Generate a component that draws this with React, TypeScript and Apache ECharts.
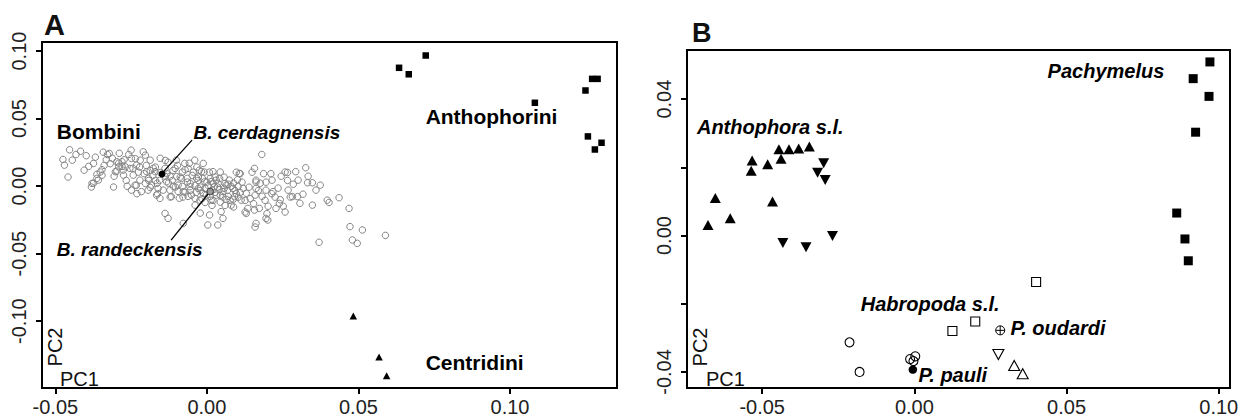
import React, { useEffect, useRef } from "react";
import * as echarts from "echarts";

const FONT = "'Liberation Sans', Arial, Helvetica, sans-serif";

// ---------- Panel A data (PC1, PC2) ----------
const bombini: number[][] = [
  [-0.0475,0.0197],[-0.0470,0.0155],[-0.0458,0.0067],[-0.0453,0.0269],[-0.0432,0.0234],[-0.0398,0.0225],[-0.0390,0.0146],[-0.0381,-0.0007],[-0.0374,0.0022],[-0.0363,0.0087],[-0.0352,0.0104],[-0.0346,0.0121],[-0.0339,0.0153],[-0.0332,0.0195],[-0.0328,0.0234],[-0.0319,0.0166],[-0.0308,-0.0007],[-0.0297,0.0111],[-0.0291,0.0170],[-0.0280,0.0146],[-0.0273,0.0195],[-0.0266,0.0042],[-0.0258,0.0234],
  [-0.0374,0.0168],[-0.0322,0.0242],[-0.0302,0.0107],[-0.0297,0.0180],[-0.0280,0.0180],[-0.0291,0.0143],[-0.0269,0.0143],[-0.0275,0.0081],[-0.0379,0.0020],[-0.0363,0.0057],[-0.0346,0.0081],
  [-0.0210,0.0254],[-0.0249,0.0205],[-0.0232,0.0155],[-0.0254,0.0131],[-0.0243,0.0081],[-0.0221,0.0044],[-0.0237,0.0007],[-0.0249,-0.0030],[-0.0216,-0.0041],[-0.0199,0.0107],[-0.0193,0.0057],[-0.0183,0.0007],[-0.0171,0.0107],[-0.0166,-0.0067],[-0.0155,-0.0091],[-0.0161,-0.0017],[-0.0138,0.0131],[-0.0133,0.0033],[-0.0122,-0.0030],[-0.0117,-0.0078],[-0.0105,0.0131],[-0.0100,0.0070],[-0.0095,0.0007],[-0.0084,0.0057],[-0.0078,-0.0041],[-0.0073,0.0168],[-0.0062,0.0131],[-0.0056,-0.0004],[-0.0051,-0.0067],[-0.0040,0.0192],[-0.0034,0.0057],[-0.0029,-0.0017],[-0.0023,-0.0104],[-0.0018,0.0107],[-0.0012,0.0168],[-0.0007,0.0033],[-0.0128,-0.0239],[-0.0078,-0.0276],[-0.0138,-0.0202],
  [-0.0236,0.0203],[-0.0233,0.0005],[-0.0231,-0.0056],[-0.0222,0.0141],[-0.0207,0.0092],[-0.0200,0.0153],[-0.0192,0.0042],[-0.0187,0.0116],[-0.0178,0.0079],[-0.0170,0.0141],[-0.0163,-0.0056],[-0.0156,0.0042],[-0.0137,0.0190],[-0.0132,0.0092],[-0.0127,0.0022],[-0.0121,-0.0081],[-0.0112,0.0116],[-0.0104,-0.0007],[-0.0097,0.0153],[-0.0088,0.0067],[-0.0079,-0.0081],[-0.0072,0.0121],[-0.0064,0.0030],[-0.0055,-0.0032],[-0.0033,0.0141],[-0.0028,0.0067],[-0.0022,-0.0007],[-0.0016,-0.0093],[-0.0009,0.0104],[-0.0022,-0.0200],
  [0.0000,0.0030],[0.0020,-0.0106],[0.0027,0.0067],[0.0035,-0.0007],[0.0044,0.0104],[0.0053,-0.0081],[0.0060,0.0018],[0.0068,-0.0032],[0.0077,-0.0106],[0.0088,0.0022],[0.0097,-0.0056],[0.0101,0.0047],[0.0110,0.0092],[0.0126,-0.0106],[0.0143,-0.0093],[0.0154,-0.0130],[0.0162,0.0030],[0.0170,-0.0032],[0.0181,0.0234],[0.0187,0.0092],[0.0192,-0.0106],[0.0211,0.0092],[0.0214,-0.0056],[0.0242,-0.0101],[0.0258,0.0104],[0.0266,0.0042],[0.0275,-0.0081],
  [0.0020,0.0107],[0.0042,0.0057],[0.0014,0.0033],[0.0025,-0.0004],[0.0031,-0.0067],[0.0053,-0.0041],[0.0064,0.0007],[0.0074,0.0044],[0.0086,-0.0017],[0.0091,-0.0078],[0.0107,0.0094],[0.0113,-0.0104],[0.0135,-0.0165],[0.0130,-0.0202],[0.0157,0.0131],[0.0162,0.0044],[0.0162,-0.0017],[0.0173,-0.0165],[0.0195,-0.0030],[0.0195,-0.0239],[0.0162,-0.0276],[0.0218,-0.0041],[0.0228,-0.0165],[0.0239,-0.0128],[0.0047,-0.0189],[0.0053,-0.0239],[0.0009,-0.0214],[0.0003,-0.0288],[0.0036,-0.0288],[0.0157,-0.0178],[0.0201,-0.0251],
  [0.0088,-0.0155],[0.0126,-0.0192],[0.0159,-0.0303],[0.0198,-0.0204],[0.0258,-0.0192],
  [0.0266,0.0101],[0.0293,0.0107],[0.0326,0.0136],[0.0332,0.0025],[0.0348,0.0025],[0.0282,-0.0078],[0.0299,-0.0078],[0.0348,-0.0141],[0.0397,-0.0104],[0.0403,-0.0121],[0.0436,-0.0086],[0.0469,-0.0165],[0.0472,-0.0300],[0.0513,-0.0325],[0.0370,-0.0416],[0.0480,-0.0399],[0.0496,-0.0424],[0.0589,-0.0365],
  [-0.0055,0.0020],[-0.0039,0.0005],[-0.0022,-0.0032],[-0.0006,-0.0017],[0.0004,0.0005],[0.0017,-0.0032],[0.0027,-0.0047],[0.0037,0.0020],[0.0044,-0.0069],[0.0057,-0.0017],[0.0070,-0.0076],[0.0080,-0.0002],[0.0093,-0.0032],[-0.0012,-0.0054],[-0.0035,-0.0047],[-0.0065,0.0057],[-0.0048,0.0079],[-0.0029,0.0042],[0.0011,0.0057],[0.0021,0.0020],[0.0041,-0.0024],[0.0064,-0.0098],[0.0087,-0.0098],[0.0110,-0.0047],[0.0120,-0.0017],[0.0103,-0.0002],[0.0011,-0.0076],[-0.0006,-0.0121],[-0.0039,-0.0091],[-0.0062,-0.0076],[-0.0081,-0.0002],[-0.0095,-0.0039],[-0.0114,0.0042],[-0.0137,0.0072],[-0.0154,0.0101],[-0.0170,0.0042],[-0.0187,-0.0010],[-0.0203,0.0020],[0.0017,-0.0143],[0.0060,-0.0143],
  [-0.0444,0.0192],[-0.0417,0.0258],[-0.0405,0.0118],[-0.0368,0.0214],[-0.0358,0.0044],[-0.0342,0.0251],[-0.0312,0.0206],[-0.0306,0.0073],[-0.0289,0.0243],[-0.0276,0.0118],[-0.0263,-0.0001],[-0.0250,0.0266],[-0.0244,0.0132],[-0.0226,0.0103],[-0.0220,0.0192],[-0.0203,0.0229],[-0.0194,-0.0030],[-0.0187,0.0192],[-0.0177,0.0132],[-0.0164,0.0021],[-0.0154,0.0206],[-0.0144,-0.0030],[-0.0128,0.0177],[-0.0121,0.0073],[-0.0111,-0.0001],[-0.0101,0.0192],[-0.0091,-0.0090],[-0.0081,0.0103],[-0.0072,-0.0045],[-0.0058,0.0169],[-0.0045,0.0103],[-0.0039,-0.0141],[-0.0025,0.0118],[-0.0015,0.0058],[-0.0002,-0.0067],[0.0008,0.0103],[0.0014,-0.0104],[0.0031,0.0044],[0.0044,-0.0119],[0.0057,0.0066],[0.0070,0.0014],[0.0080,-0.0141],[0.0097,0.0103],[0.0103,-0.0082],[0.0116,0.0029],[0.0130,-0.0053],[0.0139,-0.0008],[0.0149,0.0103],[0.0159,-0.0067],[0.0176,0.0021],[0.0182,-0.0075],[0.0195,0.0029],[0.0202,-0.0149],[0.0215,0.0044],[0.0225,-0.0082],[0.0235,-0.0015],[0.0245,0.0073],[0.0252,-0.0149],[0.0268,-0.0030],[0.0285,0.0014],[0.0301,0.0044],[0.0307,-0.0127],[0.0317,-0.0060],[0.0334,0.0073],[0.0360,-0.0030],[0.0374,0.0007],
];
const bCerdagnensis: number[][] = [[-0.0148, 0.0089]];
const bRandeckensis: number[][] = [[0.0011, -0.0040]];
const anthophorini: number[][] = [
  [0.0634,0.0876],[0.0666,0.0828],[0.0722,0.0967],[0.1082,0.0617],[0.1249,0.0708],
  [0.1271,0.0794],[0.1289,0.0794],[0.1257,0.0368],[0.1280,0.0271],[0.1302,0.0321],
];
const centridini: number[][] = [[0.0483,-0.0962],[0.0568,-0.1265],[0.0593,-0.1405]];

// ---------- Panel B data ----------
const anthophoraUp: number[][] = [
  [-0.0654,0.0110],[-0.0533,0.0220],[-0.0536,0.0190],[-0.0482,0.0209],[-0.0445,0.0253],[-0.0438,0.0225],
  [-0.0412,0.0253],[-0.0380,0.0255],[-0.0345,0.0261],[-0.0466,0.0100],[-0.0678,0.0031],[-0.0605,0.0051],
];
const anthophoraDown: number[][] = [
  [-0.0298,0.0212],[-0.0318,0.0184],[-0.0293,0.0163],[-0.0432,-0.0022],[-0.0356,-0.0034],[-0.0269,-0.0001],
];
const pachymelus: number[][] = [
  [0.0971,0.0509],[0.0916,0.0460],[0.0968,0.0408],[0.0924,0.0303],[0.0862,0.0066],[0.0889,-0.0010],[0.0900,-0.0074],
];
const habropoda: number[][] = [[0.0400,-0.0136],[0.0200,-0.0252],[0.0125,-0.0280]];
const pOudardi: number[][] = [[0.0282,-0.0278]];
const openDownTri: number[][] = [[0.0276,-0.0349]];
const openUpTri: number[][] = [[0.0328,-0.0381],[0.0356,-0.0405]];
const openCircles: number[][] = [[-0.0213,-0.0313],[-0.0180,-0.0400],[-0.0014,-0.0362],[0.0003,-0.0354],[-0.0003,-0.0368]];
const pPauli: number[][] = [[-0.0005,-0.0393]];

// ---------- axes ----------
const ticksAx = [-0.05, 0, 0.05, 0.1];
const ticksAy = [-0.1, -0.05, 0, 0.05, 0.1];
const ticksBx = [-0.05, 0, 0.05, 0.1];
const ticksBy = [-0.04, -0.02, 0, 0.02, 0.04];
const labelsBy = [-0.04, 0, 0.04];

// ---------- annotations (data coords of label's left-middle) ----------
const annotA = [
  { text: "Bombini", pos: [-0.0497, 0.0406], italic: false, size: 21 },
  { text: "B. cerdagnensis", pos: [-0.0046, 0.0399], italic: true, size: 19 },
  { text: "Anthophorini", pos: [0.0720, 0.0517], italic: false, size: 21 },
  { text: "B. randeckensis", pos: [-0.0497, -0.0467], italic: true, size: 19 },
  { text: "Centridini", pos: [0.0720, -0.1303], italic: false, size: 21 },
];
const annotB = [
  { text: "Anthophora s.l.", pos: [-0.0716, 0.0319], italic: true, size: 20 },
  { text: "Pachymelus", pos: [0.0436, 0.0483], italic: true, size: 20 },
  { text: "Habropoda s.l.", pos: [-0.0178, -0.0200], italic: true, size: 20 },
  { text: "P. oudardi", pos: [0.0314, -0.0270], italic: true, size: 20 },
  { text: "P. pauli", pos: [0.0012, -0.0410], italic: true, size: 20 },
];
const leaderCerd: number[][] = [[-0.0144, 0.0105], [-0.0049, 0.0340]];
const leaderRand: number[][] = [[0.0011, -0.0038], [-0.0118, -0.0400]];

const fmt = (v: number) => (Math.abs(v) < 1e-9 ? 0 : v).toFixed(2);

function makeAxes(gridIndex: number, range: number[], ticks: number[], labels: number[], isY: boolean) {
  return {
    type: "value",
    gridIndex,
    min: range[0],
    max: range[1],
    axisLine: { show: false, onZero: false },
    splitLine: { show: false },
    axisTick: {
      show: true,
      inside: false,
      length: 6,
      customValues: ticks,
      lineStyle: { color: "#000", width: 2 },
    },
    axisLabel: {
      show: true,
      customValues: labels,
      formatter: (v: number) => fmt(v),
      color: "#222",
      fontFamily: FONT,
      fontSize: 20,
      margin: isY ? 13 : 9,
      rotate: isY ? 90 : 0,
    },
  };
}

function annotSeries(list: any[], xi: number, yi: number) {
  return {
    type: "scatter",
    xAxisIndex: xi,
    yAxisIndex: yi,
    symbolSize: 1,
    itemStyle: { color: "rgba(0,0,0,0)" },
    silent: true,
    z: 10,
    data: list.map((a) => ({
      value: a.pos,
      label: {
        show: true,
        position: "right",
        distance: 0,
        formatter: a.text,
        color: "#000",
        opacity: 1,
        fontFamily: FONT,
        fontWeight: "bold",
        fontStyle: a.italic ? "italic" : "normal",
        fontSize: a.size,
      },
    })),
  };
}

function pts(data: number[][], xi: number, yi: number, symbol: string, size: any, fill: string, stroke: string, bw: number, rotate = 0, z = 3) {
  return {
    type: "scatter",
    xAxisIndex: xi,
    yAxisIndex: yi,
    symbol,
    symbolSize: size,
    symbolRotate: rotate,
    silent: true,
    z,
    itemStyle: { color: fill, borderColor: stroke, borderWidth: bw, opacity: 1 },
    data,
  };
}

const CROSS_CIRCLE = "path://M0,10A10,10 0 1,0 20,10A10,10 0 1,0 0,10Z M0,10L20,10 M10,0L10,20";

export default function App() {
  const ref = useRef<HTMLDivElement>(null);
  useEffect(() => {
    if (!ref.current) return;
    const chart = echarts.init(ref.current, null, { renderer: "svg" });
    const txt = (t: string, x: number, y: number, size: number, bold: boolean, rot = 0, align = "left") => ({
      type: "text",
      x,
      y,
      rotation: rot,
      silent: true,
      style: {
        text: t,
        fill: "#111",
        font: `${bold ? "bold " : ""}${size}px ${FONT}`,
        textAlign: align,
        textVerticalAlign: "middle",
      },
    });
    chart.setOption({
      animation: false,
      backgroundColor: "#fff",
      grid: [
        { left: 42, top: 42, width: 575, height: 346, show: true, borderColor: "#000", borderWidth: 2, backgroundColor: "transparent" },
        { left: 687, top: 50, width: 543, height: 338, show: true, borderColor: "#000", borderWidth: 2, backgroundColor: "transparent" },
      ],
      xAxis: [
        makeAxes(0, [-0.0544, 0.1353], ticksAx, ticksAx, false),
        makeAxes(1, [-0.0747, 0.1037], ticksBx, ticksBx, false),
      ],
      yAxis: [
        makeAxes(0, [-0.1495, 0.1067], ticksAy, ticksAy, true),
        makeAxes(1, [-0.0447, 0.0544], ticksBy, labelsBy, true),
      ],
      graphic: [
        txt("A", 44, 25, 29, true),
        txt("B", 692, 33, 27, true),
        txt("PC2", 55, 347, 20, false, Math.PI / 2, "center"),
        txt("PC1", 60, 379, 20, false),
        txt("PC2", 700, 347, 20, false, Math.PI / 2, "center"),
        txt("PC1", 706, 379, 20, false),
      ],
      series: [
        // Panel A
        pts(bombini, 0, 0, "circle", 6.5, "rgba(0,0,0,0)", "#858585", 1),
        pts(anthophorini, 0, 0, "rect", 6.5, "#000", "#000", 0),
        pts(centridini, 0, 0, "triangle", [7.5, 7], "#000", "#000", 0),
        pts(bCerdagnensis, 0, 0, "circle", 7, "#000", "#000", 0, 0, 6),
        pts(bRandeckensis, 0, 0, "circle", 6.5, "#9a9a9a", "#333", 1, 0, 6),
        {
          type: "line", xAxisIndex: 0, yAxisIndex: 0, data: leaderCerd, symbol: "none", silent: true, z: 5,
          lineStyle: { color: "#000", width: 1.3 },
        },
        {
          type: "line", xAxisIndex: 0, yAxisIndex: 0, data: leaderRand, symbol: "none", silent: true, z: 5,
          lineStyle: { color: "#000", width: 1.3 },
        },
        annotSeries(annotA, 0, 0),
        // Panel B
        pts(anthophoraUp, 1, 1, "triangle", [11, 10], "#000", "#000", 0),
        pts(anthophoraDown, 1, 1, "triangle", [11, 10], "#000", "#000", 0, 180),
        pts(pachymelus, 1, 1, "rect", 9, "#000", "#000", 0),
        pts(habropoda, 1, 1, "rect", 9, "rgba(0,0,0,0)", "#000", 1.1),
        pts(openCircles, 1, 1, "circle", 9, "rgba(0,0,0,0)", "#000", 1.1),
        pts(pPauli, 1, 1, "circle", 8.5, "#000", "#000", 0, 0, 6),
        pts(pOudardi, 1, 1, CROSS_CIRCLE, 9, "rgba(0,0,0,0)", "#000", 1),
        pts(openDownTri, 1, 1, "triangle", [11, 10], "rgba(0,0,0,0)", "#000", 1.1, 180),
        pts(openUpTri, 1, 1, "triangle", [11, 10], "rgba(0,0,0,0)", "#000", 1.1),
        annotSeries(annotB, 1, 1),
      ],
    });
    return () => chart.dispose();
  }, []);
  return (
    <div
      ref={ref}
      style={{ position: "fixed", left: 0, top: 0, width: 1244, height: 420, background: "#fff" }}
    />
  );
}
